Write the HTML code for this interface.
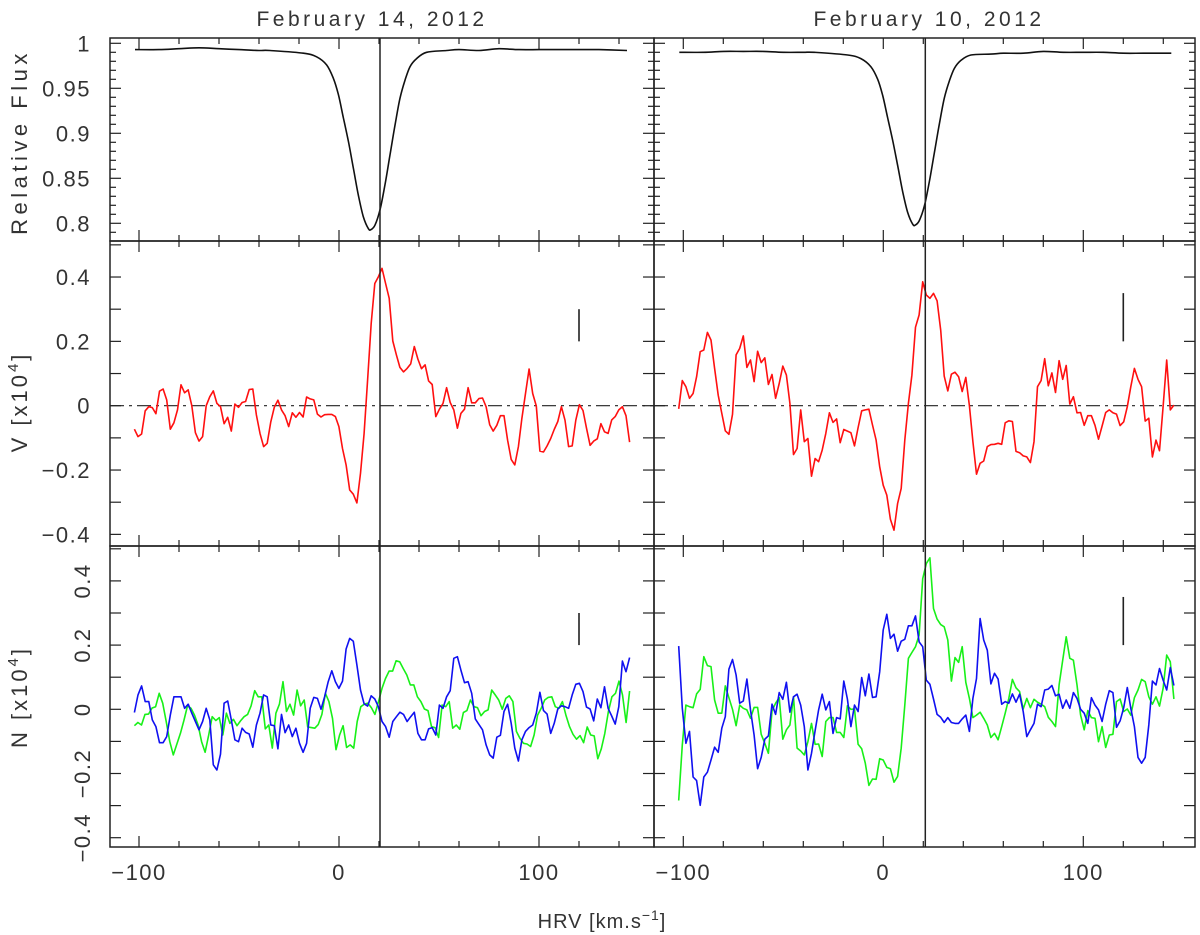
<!DOCTYPE html>
<html><head><meta charset="utf-8"><title>Line profiles</title>
<style>
html,body{margin:0;padding:0;background:#fff;}
svg{display:block;}
text{font-family:"Liberation Sans",sans-serif;fill:#333;}
</style></head>
<body>
<svg id="chart" width="1200" height="935" viewBox="0 0 1200 935" xmlns="http://www.w3.org/2000/svg">
<g id="layer"></g>
</svg>
<script>
// ---- data ----
const xTickLabels = [-100, 0, 100];
const fluxTicks = [0.8, 0.85, 0.9, 0.95, 1];
const fluxTickLabels = ["0.8", "0.85", "0.9", "0.95", "1"];
const stokesTicks = [-0.4, -0.2, 0, 0.2, 0.4];
const stokesTickLabels = ["\u22120.4", "\u22120.2", "0", "0.2", "0.4"];
const panelTitles = ["February 14, 2012", "February 10, 2012"];
const vRange = [-102.3, 145.3];
const markerVelocity = [20.5, 21];
const errorBarVelocity = [120, 120];
const errorBarV = [[0.3, 0.2], [0.35, 0.2]];
const errorBarN = [[0.3, 0.2], [0.35, 0.2]];

const fluxVelLeft = [-102,-90,-80,-70,-60,-50,-40,-34.5,-17.8,-11.2,-6.2,-2.8,-0.3,2.2,4.7,7.2,9.7,12.2,14.7,16,18,20.5,23,25.5,28,30.5,33,35.5,38.8,43.8,53.8,60,70,80,90,100,110,120,130,144];
const fluxLeft = [0.993,0.993,0.994,0.995,0.994,0.993,0.992,0.992,0.989,0.985,0.976,0.961,0.943,0.917,0.891,0.861,0.831,0.807,0.794,0.793,0.798,0.815,0.843,0.876,0.909,0.939,0.959,0.974,0.983,0.990,0.992,0.993,0.992,0.994,0.993,0.993,0.993,0.993,0.993,0.992];
const fluxVelRight = [-102,-90,-80,-70,-60,-50,-40,-34.5,-17.8,-11.2,-6.2,-2.8,-0.3,2.2,4.7,7.2,9.7,12.2,14.7,16,18,20.5,23,25.5,28,30.5,33,35.5,38.8,43.8,53.8,60,70,80,90,100,110,120,130,144];
const fluxRight = [0.990,0.990,0.991,0.991,0.991,0.990,0.990,0.990,0.987,0.983,0.974,0.960,0.942,0.917,0.892,0.864,0.835,0.812,0.799,0.798,0.803,0.819,0.846,0.878,0.910,0.939,0.958,0.972,0.981,0.987,0.988,0.989,0.989,0.991,0.990,0.990,0.990,0.989,0.989,0.989];

const stokesVLeft = [-0.073,-0.096,-0.088,-0.016,-0.003,-0.006,-0.025,0.045,0.052,0.018,-0.073,-0.053,-0.013,0.065,0.040,0.049,0,-0.084,-0.110,-0.096,0,0.028,0.046,0.007,-0.003,-0.056,-0.036,-0.079,0.005,-0.005,0.010,0.013,0.050,0.052,-0.029,-0.086,-0.127,-0.117,-0.050,-0.005,0.017,-0.013,-0.031,-0.065,-0.022,-0.036,-0.021,-0.035,0.027,0.021,0.018,-0.026,-0.035,-0.028,-0.027,-0.027,-0.034,-0.065,-0.133,-0.184,-0.262,-0.275,-0.302,-0.210,-0.086,0.080,0.256,0.380,0.401,0.427,0.380,0.334,0.201,0.158,0.119,0.105,0.116,0.130,0.184,0.145,0.115,0.127,0.077,0.066,-0.034,-0.011,0.007,0.056,0.010,-0.013,-0.070,-0.024,-0.011,0.056,0.009,0.009,0.022,0.024,-0.003,-0.059,-0.079,-0.061,-0.031,-0.031,-0.107,-0.167,-0.184,-0.127,-0.039,0.038,0.114,0.038,-0.001,-0.141,-0.144,-0.125,-0.102,-0.074,-0.049,-0.003,-0.045,-0.127,-0.125,-0.045,0.003,-0.015,-0.070,-0.123,-0.110,-0.103,-0.056,-0.081,-0.086,-0.044,-0.034,-0.013,-0.003,-0.031,-0.113];
const stokesVRight = [-0.010,0.078,0.059,0.023,0.038,0.090,0.168,0.173,0.228,0.204,0.116,0.033,-0.024,-0.078,-0.089,-0.027,0.158,0.178,0.217,0.119,0.142,0.075,0.169,0.134,0.149,0.066,0.097,0.023,0.069,0.123,0.095,0.007,-0.152,-0.133,-0.013,-0.112,-0.102,-0.219,-0.164,-0.174,-0.138,-0.086,-0.022,-0.052,-0.041,-0.115,-0.074,-0.079,-0.084,-0.125,-0.068,-0.016,-0.013,-0.011,-0.060,-0.107,-0.190,-0.247,-0.278,-0.353,-0.387,-0.304,-0.257,-0.107,0.007,0.095,0.244,0.282,0.385,0.344,0.334,0.349,0.326,0.235,0.092,0.046,0.098,0.104,0.090,0.044,0.088,0,-0.112,-0.213,-0.179,-0.172,-0.127,-0.121,-0.120,-0.117,-0.120,-0.053,-0.047,-0.049,-0.142,-0.146,-0.156,-0.159,-0.177,-0.112,0.059,0.078,0.146,0.062,0.102,0.041,0.140,0.082,0.125,0.005,0.028,-0.022,-0.021,-0.061,-0.031,-0.031,-0.061,-0.104,-0.063,-0.021,-0.013,-0.022,-0.026,-0.062,-0.050,-0.003,0.059,0.116,0.082,0.059,-0.048,-0.039,-0.159,-0.107,-0.140,-0.003,0.142,-0.013,0.002];

const nullBlueLeft = [-0.010,0.045,0.073,0.024,0.024,-0.033,-0.054,-0.104,-0.104,-0.085,-0.018,0.039,0.039,0.039,0.003,0.016,-0.012,-0.038,-0.064,-0.038,0.003,-0.033,-0.173,-0.189,-0.140,0.019,0.026,-0.033,-0.095,-0.101,-0.059,-0.072,-0.077,-0.118,-0.049,-0.012,0.045,0.039,-0.049,-0.051,-0.123,-0.016,-0.073,-0.049,-0.085,-0.059,-0.106,-0.134,-0.106,0.003,0.037,0.034,0,0.039,0.086,0.120,0.086,0.065,0.088,0.188,0.221,0.212,0.138,0.060,0.017,0.010,0.042,0.032,0.008,-0.038,-0.054,-0.087,-0.038,-0.023,-0.009,-0.016,-0.038,-0.023,-0.009,-0.075,-0.095,-0.095,-0.061,-0.057,-0.080,0.013,0.003,0.039,0.058,0.159,0.164,0.122,0.083,0.086,0.050,-0.030,-0.047,-0.064,-0.111,-0.142,-0.152,-0.087,-0.081,-0.007,0.016,-0.044,-0.121,-0.161,-0.095,-0.069,-0.057,-0.049,-0.012,0.053,-0.004,-0.015,-0.075,-0.044,0.001,0.011,0.008,0.003,0.045,0.078,0.081,0.055,0.007,0.001,-0.036,0.032,0.005,0.070,0.003,-0.021,-0.046,0.008,0.150,0.117,0.161];
const nullGreenLeft = [-0.051,-0.041,-0.049,-0.016,-0.015,0.004,0.008,0.050,0.019,-0.038,-0.101,-0.142,-0.109,-0.075,-0.035,0.011,0.003,-0.018,-0.049,-0.101,-0.134,-0.080,-0.023,-0.035,-0.026,-0.080,-0.012,-0.044,-0.031,-0.051,-0.036,-0.023,-0.016,0.011,0.058,0.039,0.039,-0.061,-0.049,-0.121,-0.012,0.016,0.086,-0.007,0.016,-0.018,0.060,0.011,0.029,-0.055,-0.057,-0.059,-0.047,-0.016,0.050,0.024,-0.028,-0.126,-0.080,-0.051,-0.119,-0.111,-0.121,-0.038,0.008,0.016,0.019,0.005,-0.016,0.024,0.065,0.096,0.119,0.119,0.151,0.148,0.127,0.107,0.076,0.076,0.039,0.024,0.001,-0.004,-0.054,-0.057,-0.088,0.013,0.008,0.024,-0.059,-0.049,-0.062,-0.010,-0.004,0.029,0.008,0.005,-0.020,-0.007,-0.002,0.060,0.045,0.029,0,0.034,0.042,0.024,-0.069,-0.090,-0.106,-0.108,-0.116,-0.080,-0.018,0.003,0.029,0.037,0.039,0.008,0.003,0.024,-0.018,-0.054,-0.078,-0.093,-0.082,-0.104,-0.055,-0.080,-0.083,-0.154,-0.123,-0.075,-0.007,0.039,0.050,0.088,0.045,-0.041,0.057];
const nullBlueRight = [0.197,0.003,-0.106,-0.069,-0.211,-0.222,-0.299,-0.211,-0.196,-0.158,-0.118,-0.134,-0.059,-0.023,0.125,0.155,0.107,0.019,0.026,0.094,-0.002,-0.080,-0.185,-0.150,-0.093,-0.083,0.016,-0.016,0.052,0.031,0.084,-0.009,0.039,0.047,0.013,-0.054,-0.189,-0.137,-0.067,-0.002,0.047,-0.002,0.024,-0.075,-0.026,-0.030,0.088,0.032,-0.054,0.013,-0.007,0.099,0.042,0.110,0.037,0.039,0.117,0.247,0.296,0.221,0.234,0.181,0.212,0.218,0.260,0.260,0.291,0.210,0.195,0.091,0.078,0.032,-0.016,-0.025,-0.041,-0.026,-0.041,-0.044,-0.044,-0.030,-0.018,-0.069,0.034,0.096,0.283,0.216,0.184,0.079,0.112,0.094,0.016,0.024,0.019,0.048,0.022,0.047,-0.007,-0.085,-0.064,-0.044,0.016,0.008,0.060,0.063,0.074,0.042,0.047,0.003,0.029,0.003,0.052,0.034,0,-0.012,-0.044,0.036,0.013,-0.002,-0.038,0.016,0.058,0.052,-0.056,-0.036,0.005,0.068,0.003,-0.054,-0.150,-0.168,-0.150,-0.049,0.088,0.076,0.127,0.091,0.060,0.130,0.074];
const nullGreenRight = [-0.284,-0.111,0.013,0.008,0.005,0.048,0.062,0.164,0.136,0.133,0.029,-0.012,-0.012,0.073,0.036,0,-0.051,0.013,0.003,-0.002,-0.028,0.006,0.006,-0.078,-0.106,-0.137,-0.005,0.019,0.036,-0.093,-0.064,-0.049,0.039,-0.121,-0.130,-0.142,-0.101,-0.044,-0.109,-0.108,-0.147,-0.038,-0.026,-0.026,-0.072,-0.072,-0.088,0.011,0,0.001,-0.109,-0.123,-0.168,-0.237,-0.217,-0.218,-0.154,-0.158,-0.181,-0.185,-0.227,-0.209,-0.121,0.013,0.159,0.177,0.195,0.231,0.407,0.454,0.472,0.314,0.281,0.264,0.257,0.216,0.088,0.161,0.146,0.195,0.084,0.034,-0.026,-0.018,-0.009,-0.028,-0.049,-0.088,-0.075,-0.095,-0.054,-0.012,0.034,0.093,0.067,0.055,0.001,0.034,0.005,0.031,0.022,0.016,0.008,-0.025,-0.038,-0.054,0.076,0.153,0.226,0.159,0.153,0.076,-0.018,-0.064,-0.004,-0.026,-0.028,-0.101,-0.054,-0.119,-0.080,-0.078,0.024,0.032,-0.007,0.001,-0.018,0.036,0.060,0.093,0.086,0.039,0.016,0.039,0.010,0.065,0.169,0.148,0.032];

// ---- layout ----
const NS = "http://www.w3.org/2000/svg";
const layer = document.getElementById("layer");
const panelsX = [{x0: 110, x1: 654, zero: 339}, {x0: 654, x1: 1195, zero: 883.3}];
const pxPerKms = 2.0;
const rows = {
  flux: {y0: 38, y1: 241, yOf: f => 43.3 + (1 - f) * 900},
  v: {y0: 241, y1: 546, yOf: v => 405.7 - v * 321.7},
  n: {y0: 546, y1: 847, yOf: v => 709.3 - v * 321}
};
function xOf(p, v) { return panelsX[p].zero + v * pxPerKms; }
function mk(tag, attrs) {
  const e = document.createElementNS(NS, tag);
  for (const k in attrs) e.setAttribute(k, attrs[k]);
  layer.appendChild(e);
  return e;
}
function uniformPath(p, row, vals) {
  const n = vals.length, step = (vRange[1] - vRange[0]) / (n - 1);
  return vals.map((y, i) => (i ? "L" : "M") + xOf(p, vRange[0] + i * step).toFixed(1) + " " + rows[row].yOf(y).toFixed(1)).join(" ");
}
function smoothPath(p, row, xs, ys) {
  const pts = xs.map((x, i) => [xOf(p, x), rows[row].yOf(ys[i])]);
  let d = "M" + pts[0][0].toFixed(1) + " " + pts[0][1].toFixed(1);
  for (let i = 0; i < pts.length - 1; i++) {
    const p0 = pts[Math.max(0, i - 1)], p1 = pts[i], p2 = pts[i + 1], p3 = pts[Math.min(pts.length - 1, i + 2)];
    const c1 = [p1[0] + (p2[0] - p0[0]) / 6, p1[1] + (p2[1] - p0[1]) / 6];
    const c2 = [p2[0] - (p3[0] - p1[0]) / 6, p2[1] - (p3[1] - p1[1]) / 6];
    d += " C" + c1[0].toFixed(1) + " " + c1[1].toFixed(1) + " " + c2[0].toFixed(1) + " " + c2[1].toFixed(1) + " " + p2[0].toFixed(1) + " " + p2[1].toFixed(1);
  }
  return d;
}

["flux", "v", "n"].forEach(rk => {
  const r = rows[rk];
  [0, 1].forEach(p => {
    const P = panelsX[p];
    const fr = mk("rect", {x: P.x0, y: r.y0, width: P.x1 - P.x0, height: r.y1 - r.y0, fill: "none", stroke: "#222", "stroke-width": 1.5});
    
    
    for (let v = -100; v <= 140; v += 20) {
      const x = xOf(p, v);
      if (x <= P.x0 || x >= P.x1) continue;
      const len = (v % 100 === 0) ? 11 : 6;
      const t1 = mk("line", {x1: x, y1: r.y1, x2: x, y2: r.y1 - len, stroke: "#222", "stroke-width": 1.2});
      
      
      const t2 = mk("line", {x1: x, y1: r.y0, x2: x, y2: r.y0 + len, stroke: "#222", "stroke-width": 1.2});
      
      
    }
    let tv = [];
    if (rk === "flux") { for (let k = 79; k <= 100; k++) tv.push([k / 100, k % 5 === 0]); }
    else { for (let k = -4; k <= 5; k++) tv.push([k / 10, true]); }
    tv.forEach(([val, major]) => {
      const y = r.yOf(val);
      if (y <= r.y0 + 1 || y >= r.y1 - 1) return;
      const len = major ? 11 : 6;
      const a = mk("line", {x1: P.x0, y1: y, x2: P.x0 + len, y2: y, stroke: "#222", "stroke-width": 1.2});
      
      
      const b = mk("line", {x1: P.x1, y1: y, x2: P.x1 - len, y2: y, stroke: "#222", "stroke-width": 1.2});
      
      
    });
  });
});

fluxTicks.forEach((f, i) => {
  const t = mk("text", {x: 91, y: rows.flux.yOf(f) + 8, "text-anchor": "end", "font-size": 22, "letter-spacing": 1.5});
  t.textContent = fluxTickLabels[i];
  
  
});
stokesTicks.forEach((s, i) => {
  const t = mk("text", {x: 91, y: rows.v.yOf(s) + 8, "text-anchor": "end", "font-size": 22, "letter-spacing": 1.5});
  t.textContent = stokesTickLabels[i];
  
  
  const y = rows.n.yOf(s);
  const u = mk("text", {x: 0, y: 0, "text-anchor": "middle", "font-size": 22, "letter-spacing": 1.5, transform: "translate(90," + y + ") rotate(-90)"});
  u.textContent = stokesTickLabels[i];
  
  
});
[0, 1].forEach(p => {
  xTickLabels.forEach(v => {
    const t = mk("text", {x: xOf(p, v), y: 880, "text-anchor": "middle", "font-size": 22, "letter-spacing": 1.5});
    t.textContent = v < 0 ? "\u2212" + Math.abs(v) : String(v);
    
    
  });
  const tt = mk("text", {x: (p === 0 ? 372 : 929), y: 26, "text-anchor": "middle", "font-size": 21, "letter-spacing": 3.5});
  tt.textContent = panelTitles[p];
  
  
});

function rotTitle(x, y, html, name, extra) {
  const attrs = {x: 0, y: 0, "text-anchor": "middle", "font-size": 22, transform: "translate(" + x + "," + y + ") rotate(-90)"};
  for (const k in extra) attrs[k] = extra[k];
  const t = mk("text", attrs);
  t.innerHTML = html;
  
  
}
rotTitle(27, 142, "Relative Flux", "flux-axis-title", {"letter-spacing": 4.5});
rotTitle(27, 402, 'V  [x10<tspan dy="-9" font-size="15">4</tspan><tspan dy="9">]</tspan>', "v-axis-title", {"letter-spacing": 3});
rotTitle(27, 697, 'N  [x10<tspan dy="-9" font-size="15">4</tspan><tspan dy="9">]</tspan>', "n-axis-title", {"letter-spacing": 3});
const xt = mk("text", {x: 602, y: 928, "text-anchor": "middle", "font-size": 20, "letter-spacing": 1});
xt.innerHTML = 'HRV [km.s<tspan dy="-8" font-size="14">\u22121</tspan><tspan dy="8">]</tspan>';



[0, 1].forEach(p => {
  const z = mk("line", {x1: panelsX[p].x0, x2: panelsX[p].x1, y1: rows.v.yOf(0), y2: rows.v.yOf(0), stroke: "#222", "stroke-width": 1.2, "stroke-dasharray": "14 5 3 5"});
  
  
});

function series(d, color, name) {
  const e = mk("path", {d: d, fill: "none", stroke: color, "stroke-width": 1.6, "stroke-linejoin": "round"});
  
  
}
series(smoothPath(0, "flux", fluxVelLeft, fluxLeft), "#111", "flux-profile-feb14");
series(smoothPath(1, "flux", fluxVelRight, fluxRight), "#111", "flux-profile-feb10");
series(uniformPath(0, "v", stokesVLeft), "#ff1010", "stokes-v-feb14");
series(uniformPath(1, "v", stokesVRight), "#ff1010", "stokes-v-feb10");
series(uniformPath(0, "n", nullGreenLeft), "#18f018", "null-green-feb14");
series(uniformPath(0, "n", nullBlueLeft), "#1010f0", "null-blue-feb14");
series(uniformPath(1, "n", nullGreenRight), "#18f018", "null-green-feb10");
series(uniformPath(1, "n", nullBlueRight), "#1010f0", "null-blue-feb10");

[0, 1].forEach(p => {
  const x = xOf(p, markerVelocity[p]);
  const m = mk("line", {x1: x, x2: x, y1: rows.flux.y0, y2: rows.n.y1, stroke: "#222", "stroke-width": 1.5});
  
  
  const ex = xOf(p, errorBarVelocity[p]);
  const e1 = mk("line", {x1: ex, x2: ex, y1: rows.v.yOf(errorBarV[p][0]), y2: rows.v.yOf(errorBarV[p][1]), stroke: "#222", "stroke-width": 1.6});
  
  
  const e2 = mk("line", {x1: ex, x2: ex, y1: rows.n.yOf(errorBarN[p][0]), y2: rows.n.yOf(errorBarN[p][1]), stroke: "#222", "stroke-width": 1.6});
  
  
});
</script>
</body></html>
